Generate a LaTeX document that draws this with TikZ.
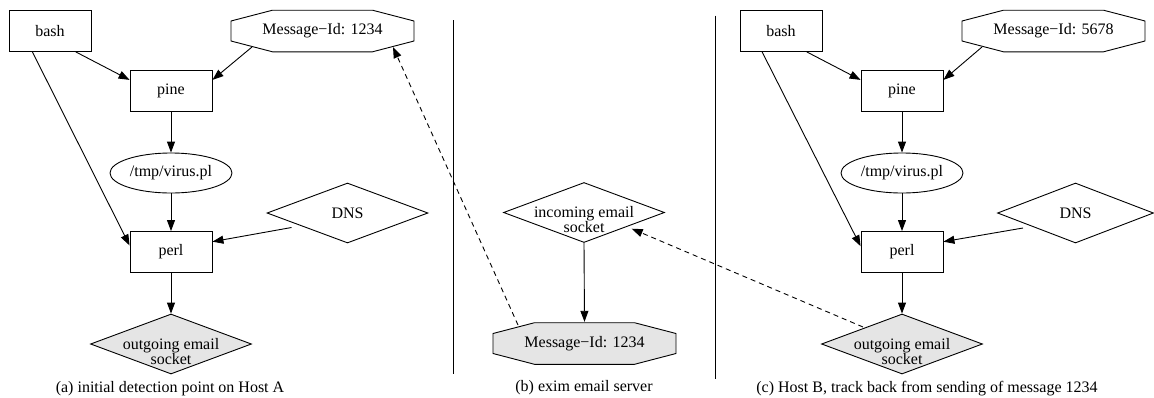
\documentclass[tikz,border=0pt]{standalone}
\usepackage{fontspec}
\setmainfont{Liberation Serif}
\usetikzlibrary{shapes.geometric,arrows.meta,calc}
\begin{document}
\begin{tikzpicture}[x=1pt,y=-1pt,
  every node/.style={font=\fontsize{16pt}{15pt}\selectfont},
  box/.style={draw, rectangle, minimum width=82pt, minimum height=41pt, inner sep=0pt, line width=0.9pt},
  oval/.style={draw, ellipse, minimum width=122pt, minimum height=40pt, inner sep=0pt, line width=0.9pt},
  dia/.style={draw, diamond, minimum width=161pt, minimum height=60pt, inner sep=0pt, line width=0.9pt},
  octo/.style={rectangle, minimum width=185pt, minimum height=43pt, inner sep=0pt,
     path picture={\draw[line width=0.9pt, fill=#1]
       ($(path picture bounding box.center)+(-91.5,-10)$) -- ($(path picture bounding box.center)+(-50,-20.8)$) --
       ($(path picture bounding box.center)+(50,-20.8)$) -- ($(path picture bounding box.center)+(91.5,-10)$) --
       ($(path picture bounding box.center)+(91.5,10)$) -- ($(path picture bounding box.center)+(50,20.8)$) --
       ($(path picture bounding box.center)+(-50,20.8)$) -- ($(path picture bounding box.center)+(-91.5,10)$) -- cycle;}},
  octo/.default=white,
  edge/.style={line width=0.9pt, -{Triangle[length=11pt,width=8pt]}},
  dedge/.style={edge, dash pattern=on 5pt off 4pt},
  sep/.style={line width=0.9pt},
  shaded/.style={fill=black!10}
]
\useasboundingbox (0,0) rectangle (1154,397);

% ---------- (a) ----------
\node[box] (ba) at (50,31) {bash};
\node[box] (pa) at (171,91) {pine};
\node[octo] (ma) at (322.5,31) {Message−Id: 1234};
\node[oval] (va) at (171,173) {/tmp/virus.pl};
\node[dia] (da) at (347.5,213) {DNS};
\node[box] (la) at (171,252) {perl};
\node[dia, shaded, label={[align=center, yshift=-7.5pt]center:{outgoing email\\socket}}] (oa) at (171,344) {};
\node (capa) at (170,389) {(a) initial detection point on Host A};

\draw[edge] (ba.-39) -- (pa.165);
\draw[edge] ($(ma.center)+(-70.5,16)$) -- (pa.15);
\draw[edge] (pa.south) -- (va.north);
\draw[edge] (va.south) -- (la.north);
\draw[edge] (ba.-130.6) -- (la.171.7);
\draw[edge] ($(da.center)+(-56,14.5)$) -- (la.14);
\draw[edge] (la.south) -- (oa.north);

% ---------- (b) ----------
\node[dia, label={[align=center, yshift=-7.5pt]center:{incoming email\\socket}}] (ib) at (584,212.5) {};
\node[octo=black!10] (mb) at (584.5,343.5) {Message−Id: 1234};
\node (capb) at (584,388) {(b) exim email server};
\draw[edge] (ib.south) -- (mb.north);

% ---------- (c) ----------
\node[box] (bc) at (781,31) {bash};
\node[box] (pc) at (902,91) {pine};
\node[octo] (mc) at (1053.5,31) {Message−Id: 5678};
\node[oval] (vc) at (902,173) {/tmp/virus.pl};
\node[dia, minimum width=156pt] (dc) at (1075.5,213) {DNS};
\node[box] (lc) at (902,252) {perl};
\node[dia, shaded, label={[align=center, yshift=-7.5pt]center:{outgoing email\\socket}}] (oc) at (902,344) {};
\node (capc) at (927,389) {(c) Host B, track back from sending of message 1234};

\draw[edge] (bc.-39) -- (pc.165);
\draw[edge] ($(mc.center)+(-71.5,16)$) -- (pc.15);
\draw[edge] (pc.south) -- (vc.north);
\draw[edge] (vc.south) -- (lc.north);
\draw[edge] (bc.-132.6) -- (lc.172.5);
\draw[edge] ($(dc.center)+(-52.5,15)$) -- (lc.14);
\draw[edge] (lc.south) -- (oc.north);

% ---------- cross-host dashed links ----------
\draw[dedge] ($(mb.center)+(-66.5,-18.5)$) -- ($(ma.center)+(70.5,16)$);
\draw[dedge] ($(oc.center)+(-39,-17)$) -- ($(ib.center)+(47.7,16.2)$);

% ---------- separators ----------
\coordinate (s1t) at (453.3,20);
\coordinate (s1b) at (453.3,374);
\coordinate (s2t) at (715.7,15.7);
\coordinate (s2b) at (715.7,379);
\draw[sep] (s1t) -- (s1b);
\draw[sep] (s2t) -- (s2b);
\end{tikzpicture}
\end{document}
